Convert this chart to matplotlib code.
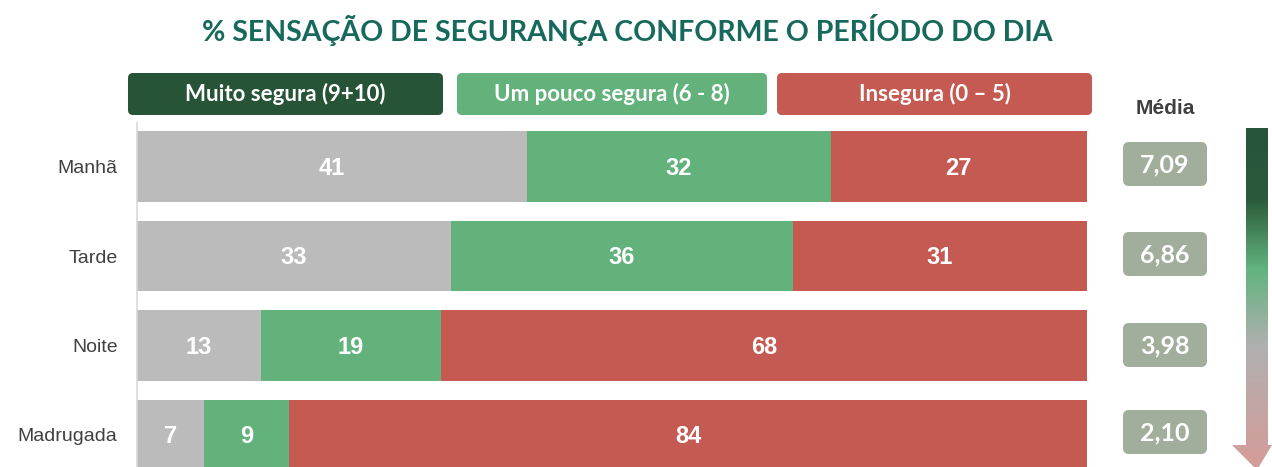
import numpy as np
import matplotlib
matplotlib.use("Agg")
import matplotlib.pyplot as plt
from matplotlib.patches import FancyBboxPatch, Polygon
from matplotlib.colors import LinearSegmentedColormap

periodos = ["Manhã", "Tarde", "Noite", "Madrugada"]
muito_segura = [41, 33, 13, 7]
pouco_segura = [32, 36, 19, 9]
insegura = [27, 31, 68, 84]
medias = ["7,09", "6,86", "3,98", "2,10"]
legenda = ["Muito segura (9+10)", "Um pouco segura (6 - 8)", "Insegura (0 – 5)"]

cinza = "#BBBBBB"
verde = "#63B27C"
vermelho = "#C45A51"
verde_esc = "#275437"
cor_media = "#A0AE9B"

W, H = 1272, 467
fig = plt.figure(figsize=(W / 100, H / 100), dpi=100)

# barras
ax = fig.add_axes([137 / W, 0, (1087 - 137) / W, (467 - 123) / H])
y = np.arange(len(periodos))
esq = np.zeros(len(periodos))
for vals, cor in [(muito_segura, cinza), (pouco_segura, verde), (insegura, vermelho)]:
    vals = np.array(vals)
    ax.barh(y, vals, left=esq, height=0.79, color=cor)
    for yi, l, v in zip(y, esq, vals):
        ax.text(l + v / 2, yi + 0.02, str(v), ha="center", va="center", color="white",
                fontsize=17, fontweight="bold", family="Liberation Sans")
    esq = esq + vals
ax.set_xlim(0, 100)
ax.set_ylim(3.36, -0.49)
ax.set_yticks(y)
ax.set_yticklabels(periodos, fontsize=14, color="#404040", family="Liberation Sans")
ax.tick_params(axis="y", length=0, pad=14)
ax.set_xticks([])
for s in ["top", "right", "bottom"]:
    ax.spines[s].set_visible(False)
ax.spines["left"].set_color("#D9D9D9")
ax.spines["left"].set_linewidth(1.2)

# camada em pixels para título, legenda, médias e seta
ov2 = fig.add_axes([0, 0, 1, 1])
ov2.set_xlim(0, W)
ov2.set_ylim(H, 0)
ov2.axis("off")
ov2.patch.set_alpha(0)

ov2.text(627, 30, "% SENSAÇÃO DE SEGURANÇA CONFORME O PERÍODO DO DIA", ha="center", va="center",
         fontsize=20.5, fontweight="bold", color="#17695C", family="Lato")

caixas = [(128, 443, verde_esc), (457, 767, verde), (777, 1092, vermelho)]
for (x0, x1, cor), txt in zip(caixas, legenda):
    ov2.add_patch(FancyBboxPatch((x0 + 3, 76), x1 - x0 - 6, 36,
                                 boxstyle="round,pad=3,rounding_size=5", fc=cor, ec="none"))
    ov2.text((x0 + x1) / 2, 94, txt, ha="center", va="center", color="white",
             fontsize=16, fontweight="bold", family="Lato")

ov2.text(1165, 108, "Média", ha="center", va="center", fontsize=15, fontweight="bold",
         color="#404040", family="Liberation Sans")
for yc, m in zip([164, 254, 345, 432], medias):
    ov2.add_patch(FancyBboxPatch((1126, yc - 19), 78, 38,
                                 boxstyle="round,pad=3,rounding_size=6", fc=cor_media, ec="none"))
    ov2.text(1165, yc + 1, m, ha="center", va="center", color="white",
             fontsize=18, fontweight="bold", family="Lato")

# seta com gradiente
cmap = LinearSegmentedColormap.from_list("seta", [(0, "#27543A"), (0.2, "#2A5A3A"),
                                                  (0.4, "#62B47E"), (0.62, "#B0B0B0"),
                                                  (1, "#D99A96")])
grad = np.linspace(0, 1, 256).reshape(-1, 1)
im = ov2.imshow(grad, cmap=cmap, extent=[1230, 1272, 480, 128], aspect="auto")
seta = Polygon([(1246, 128), (1268, 128), (1268, 445), (1272, 445), (1257, 470),
                (1232, 445), (1246, 445)], closed=True, transform=ov2.transData, fc="none", ec="none")
ov2.add_patch(seta)
im.set_clip_path(seta)
ov2.set_xlim(0, W)
ov2.set_ylim(H, 0)

fig.savefig("out.png", dpi=100)
